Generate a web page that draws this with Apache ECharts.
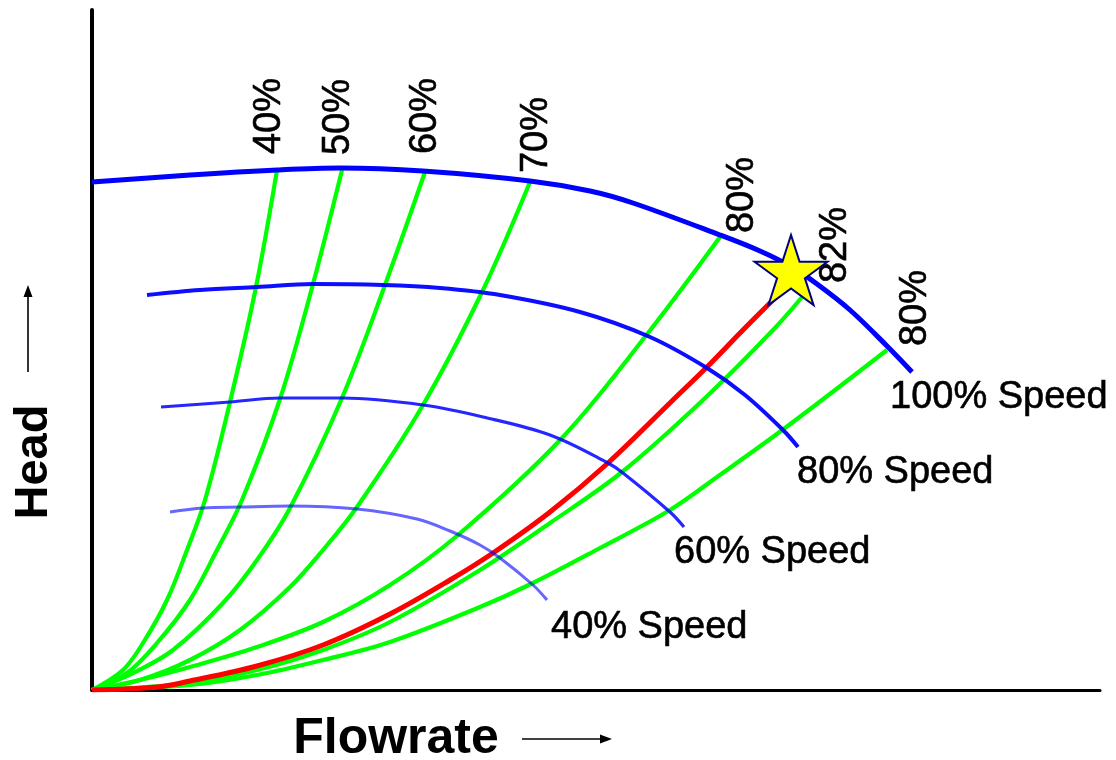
<!DOCTYPE html>
<html><head><meta charset="utf-8">
<script src="https://cdn.jsdelivr.net/npm/echarts@6/dist/echarts.min.js"></script>
<style>html,body{margin:0;padding:0;background:#fff}#c{width:1116px;height:760px}</style>
</head><body><div id="c"></div>
<script>
// Pump curves (flow, head) (flow axis 0..1008, head axis 0..680)
const speed100 = [[0,508],[98,515],[185,520],[248,522],[331,519],[438,509],[498,499],[541,487],[628,455],[668,439],[698,424],[725,406],[758,380],[795,344],[820,318]];
const speed80 = [[55,395],[108,400],[165,403],[221,406],[291,405],[348,402],[408,395],[488,378],[558,353],[615,322],[653,295],[691,260],[706,243]];
const speed60 = [[69,283],[138,288],[188,292],[251,292],[331,285],[391,273],[458,255],[516,227],[531,217],[578,178],[592,163]];
const speed40 = [[78,178],[111,182],[148,183],[198,184],[265,181],[325,171],[358,159],[388,145],[408,132],[441,105],[455,90]];
// System curves (green) and best efficiency curve (red)
const sys40 = [[0,0],[31,20],[51,47],[75,90],[95,140],[113,190],[138,288],[164,403],[185,520]];
const sys50 = [[0,0],[35,17],[65,47],[98,90],[125,140],[150,190],[188,291],[221,406],[250,520]];
const sys60 = [[0,0],[41,17],[81,40],[131,87],[165,130],[198,182],[250,292],[293,405],[333,518]];
const sys70 = [[0,0],[48,10],[98,30],[148,60],[198,103],[231,140],[265,183],[331,285],[391,400],[438,508]];
const sys80a = [[0,0],[48,10],[98,23],[165,43],[231,68],[298,105],[366,155],[470,252],[556,357],[628,453]];
const sys82 = [[0,0],[98,7],[165,20],[231,40],[298,68],[388,120],[458,167],[530,218],[611,290],[681,360],[716,400]];
const sys80b = [[0,0],[98,5],[165,15],[231,30],[298,48],[388,83],[441,107],[508,142],[578,180],[625,213],[693,262],[795,340]];
const bepCurve = [[0,0],[65,3],[98,9],[165,24],[231,45],[298,76],[358,110],[401,137],[458,178],[516,227],[581,290],[615,323],[651,360],[684,393]];
const bepPoint = [699, 420];

const effLabels = ['40%','50%','60%','70%','80%','82%','80%'];
const speedLabels = ['100% Speed','80% Speed','60% Speed','40% Speed'];

const sysCurves = [sys40, sys50, sys60, sys70, sys80a, sys82, sys80b];
const speedCurves = [speed100, speed80, speed60, speed40];

// styles (screen offsets of the labels from each curve's end)
const effOffsets = [[-7,-54],[-3,-53],[1,-56],[7,-47],[23,-42],[28,-45],[29,-42]];
const speedOffsets = [[-22,26],[-1,26],[-10,26],[4,28]];
const speedWidths = [5, 4, 3.2, 3];
const speedOpacity = [1, 0.95, 0.85, 0.6];
const FONT = '"Liberation Sans", Arial, sans-serif';

const series = [];
sysCurves.forEach(function(d){
  series.push({type:'line', data:d, smooth:0.35, symbol:'none', silent:true,
    lineStyle:{color:'#00ff00', width:4.2}, z:2});
});
series.push({type:'line', data:bepCurve, smooth:0.35, symbol:'none', silent:true,
  lineStyle:{color:'#ff0000', width:5}, z:3});
speedCurves.forEach(function(d,i){
  series.push({type:'line', data:d, smooth:0.35, symbol:'none', silent:true,
    lineStyle:{color:'#0000ff', width:speedWidths[i], opacity:speedOpacity[i]}, z:4});
});
const labelBase = {show:true, color:'#000', opacity:1, fontSize:38, fontFamily:FONT,
  textBorderColor:'#000', textBorderWidth:0.6};
// efficiency labels at top end of each system curve (rotated 90deg; offset is in rotated frame)
series.push({type:'scatter', symbolSize:0, silent:true, z:6, itemStyle:{opacity:1},
  data: sysCurves.map(function(d,i){
    const o = effOffsets[i];
    return {value:d[d.length-1], label:Object.assign({}, labelBase, {formatter:effLabels[i], position:'inside',
      rotate:90, align:'center', verticalAlign:'middle', offset:[-o[1], o[0]]})};
  })});
// speed labels at end of each speed curve
series.push({type:'scatter', symbolSize:0, silent:true, z:6, itemStyle:{opacity:1},
  data: speedCurves.map(function(d,i){
    return {value:d[d.length-1], label:Object.assign({}, labelBase, {formatter:speedLabels[i], position:'inside',
      align:'left', verticalAlign:'middle', offset:speedOffsets[i]})};
  })});
// operating point star
series.push({type:'scatter', silent:true, z:8, data:[bepPoint],
  symbol:'path://M0,-1 L0.2245,-0.309 L0.951,-0.309 L0.363,0.118 L0.588,0.809 L0,0.382 L-0.588,0.809 L-0.363,0.118 L-0.951,-0.309 L-0.2245,-0.309 Z',
  symbolSize:[73,70], itemStyle:{color:'#ffff00', borderColor:'#000080', borderWidth:2, opacity:1}});

const chart = echarts.init(document.getElementById('c'), null, {renderer:'canvas'});
chart.setOption({
  animation:false,
  backgroundColor:'#fff',
  grid:{left:92, top:10, width:1008, height:680, containLabel:false},
  xAxis:{type:'value', min:0, max:1008, axisLine:{show:true, onZero:false, lineStyle:{color:'#000', width:3}},
    axisTick:{show:false}, axisLabel:{show:false}, splitLine:{show:false}},
  yAxis:{type:'value', min:0, max:680, axisLine:{show:true, onZero:false, lineStyle:{color:'#000', width:4}},
    axisTick:{show:false}, axisLabel:{show:false}, splitLine:{show:false}},
  series:series,
  graphic:[
    {type:'text', x:34, y:462, rotation:Math.PI/2, style:{text:'Head', font:'bold 47px ' + FONT, fill:'#000', textAlign:'center', textVerticalAlign:'middle'}},
    {type:'line', shape:{x1:28, y1:372, x2:28, y2:295}, style:{stroke:'#000', lineWidth:1.6}},
    {type:'polygon', shape:{points:[[28,285],[23.5,297],[32.5,297]]}, style:{fill:'#000'}},
    {type:'text', x:396, y:739, style:{text:'Flowrate', font:'bold 50px ' + FONT, fill:'#000', textAlign:'center', textVerticalAlign:'middle'}},
    {type:'line', shape:{x1:522, y1:739, x2:602, y2:739}, style:{stroke:'#000', lineWidth:1.6}},
    {type:'polygon', shape:{points:[[612,739],[600,734.5],[600,743.5]]}, style:{fill:'#000'}}
  ]
});
</script></body></html>
